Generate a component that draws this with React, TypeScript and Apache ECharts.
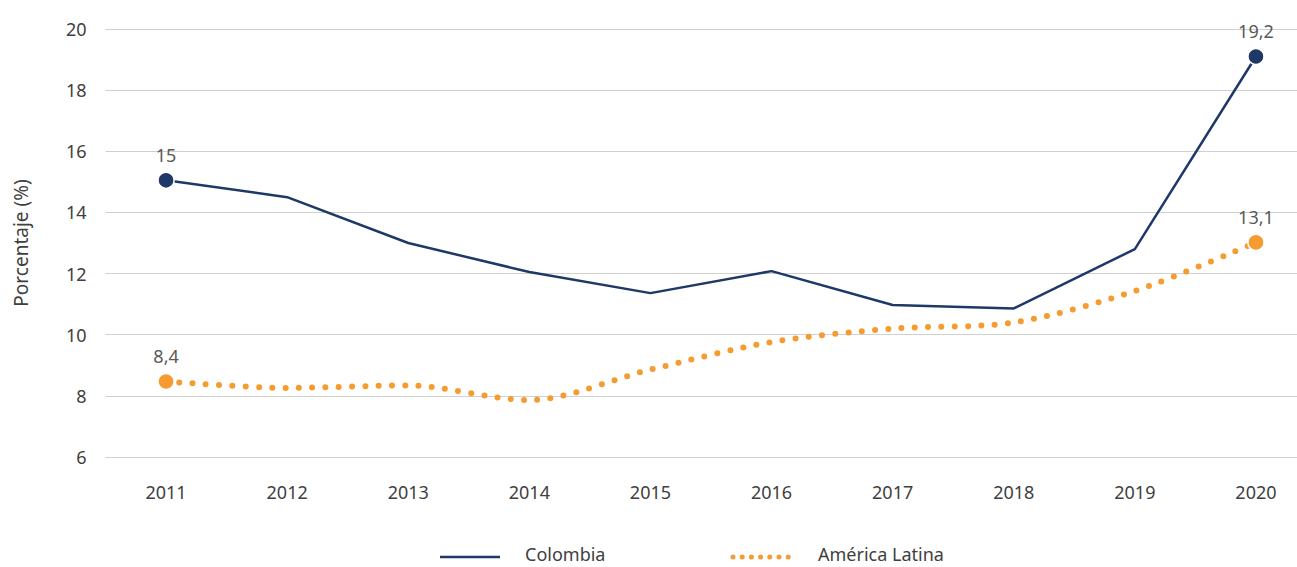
import React, { useEffect, useRef } from "react";
import * as echarts from "echarts";

const years = ["2011", "2012", "2013", "2014", "2015", "2016", "2017", "2018", "2019", "2020"];
const colombia = [15.05, 14.5, 13.0, 12.05, 11.36, 12.08, 10.97, 10.86, 12.8, 19.1];
const latam = [8.47, 8.26, 8.34, 7.86, 8.86, 9.76, 10.2, 10.4, 11.43, 13.02];
const colombiaLabels = ["15", "", "", "", "", "", "", "", "", "19,2"];
const latamLabels = ["8,4", "", "", "", "", "", "", "", "", "13,1"];
const yTicks = { min: 6, max: 20, interval: 2 };

const NAVY = "#1f3868";
const ORANGE = "#f59b2f";
const FONT = "'Noto Sans', sans-serif";

function buildData(values: number[], labels: string[], color: string) {
  return values.map((v, i) => {
    const end = i === 0 || i === values.length - 1;
    return end
      ? {
          value: v,
          symbol: "circle",
          symbolSize: 16,
          itemStyle: { color, borderColor: "#fff", borderWidth: 1.5 },
          label: { show: true, formatter: labels[i] },
        }
      : { value: v, symbol: "none" };
  });
}

export default function App() {
  const ref = useRef<HTMLDivElement>(null);
  useEffect(() => {
    if (!ref.current) return;
    const chart = echarts.init(ref.current, undefined, { renderer: "svg" });
    chart.setOption({
      animation: false,
      backgroundColor: "#fff",
      grid: { left: 105.5, right: 3.5, top: 29, bottom: 110 },
      xAxis: {
        type: "category",
        data: years,
        boundaryGap: true,
        axisLine: { show: false },
        axisTick: { show: false },
        axisLabel: { margin: 26, fontSize: 18, color: "#404040", fontFamily: FONT },
      },
      yAxis: {
        type: "value",
        min: yTicks.min,
        max: yTicks.max,
        interval: yTicks.interval,
        name: "Porcentaje (%)",
        nameLocation: "middle",
        nameGap: 75,
        nameTextStyle: { fontSize: 19, color: "#404040", fontFamily: FONT },
        axisLine: { show: false },
        axisTick: { show: false },
        axisLabel: { margin: 19, fontSize: 18, color: "#404040", fontFamily: FONT },
        splitLine: { lineStyle: { color: "#d0d0d0", width: 1 } },
      },
      series: [
        {
          name: "Colombia",
          type: "line",
          data: buildData(colombia, colombiaLabels, NAVY),
          lineStyle: { color: NAVY, width: 2.5 },
          itemStyle: { color: NAVY },
          label: { position: "top", distance: 8, fontSize: 18, color: "#595959", fontFamily: FONT },
          z: 3,
        },
        {
          name: "América Latina",
          type: "line",
          smooth: 0.3,
          data: buildData(latam, latamLabels, ORANGE),
          lineStyle: { color: ORANGE, width: 6, type: [0, 13.3], cap: "round" },
          itemStyle: { color: ORANGE },
          label: { position: "top", distance: 8, fontSize: 18, color: "#595959", fontFamily: FONT },
          z: 2,
        },
      ],
      graphic: [
        { type: "line", shape: { x1: 440, y1: 557, x2: 500, y2: 557 }, style: { stroke: NAVY, lineWidth: 2.5 } },
        { type: "text", x: 525, y: 554, style: { text: "Colombia", fontSize: 18, lineHeight: 18, fill: "#404040", fontFamily: FONT, verticalAlign: "middle" } },
        { type: "line", shape: { x1: 733, y1: 557, x2: 797, y2: 557 }, style: { stroke: ORANGE, lineWidth: 5, lineDash: [0, 9.2], lineCap: "round" } },
        { type: "text", x: 818, y: 554, style: { text: "América Latina", fontSize: 18, lineHeight: 18, fill: "#404040", fontFamily: FONT, verticalAlign: "middle" } },
      ],
    });
    return () => chart.dispose();
  }, []);
  return (
    <div style={{ position: "absolute", left: 0, top: 0, width: 1297, height: 567, overflow: "hidden" }}>
      <div ref={ref} style={{ width: 1320, height: 567 }} />
    </div>
  );
}
